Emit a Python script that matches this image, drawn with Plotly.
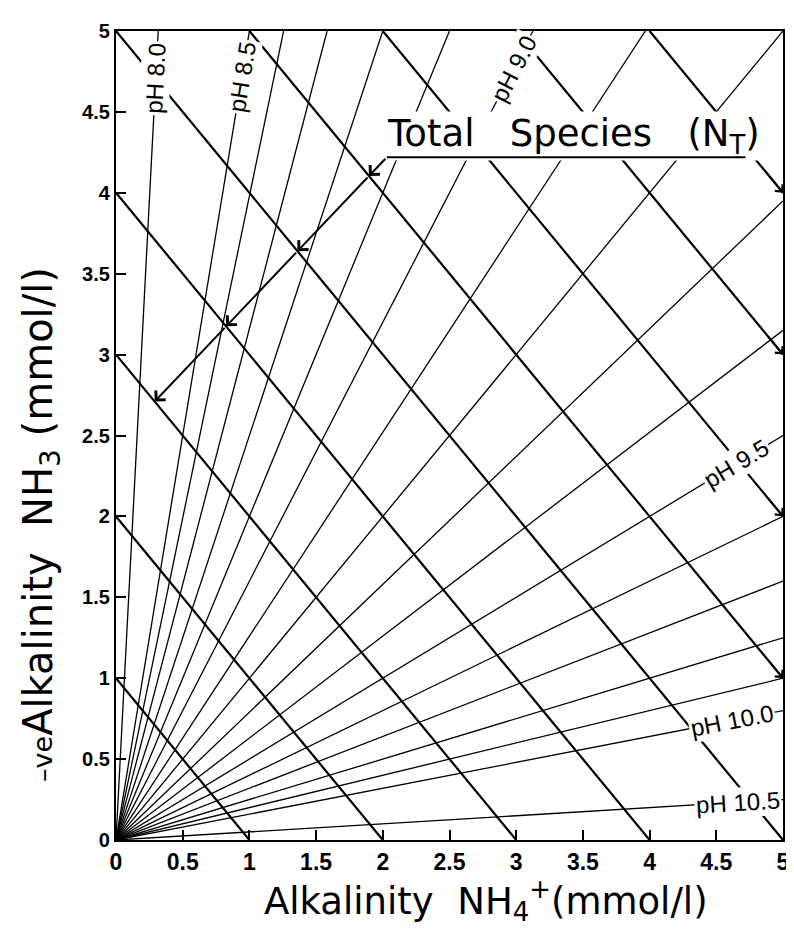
import math
import plotly.graph_objects as go

# ---------------- data ----------------
# pH of each radial line and its slope (NH3 alkalinity / NH4+ alkalinity)
ph_values = [8.0, 8.5, 8.6, 8.7, 8.8, 8.9, 9.0, 9.1, 9.2, 9.3, 9.4, 9.5,
             9.6, 9.7, 9.8, 9.9, 10.0, 10.5]
ph_slopes = [15.8, 5.0, 3.98, 3.16, 2.5, 2.0, 1.6, 1.26, 1.0, 0.79, 0.63,
             0.5, 0.4, 0.32, 0.25, 0.2, 0.16, 0.05]

# total-species lines (x + y = N)
total_species = [1, 2, 3, 4, 5, 6, 7, 8, 9]
pointer_species = [6, 5, 4, 3]        # arrowheads on the left pointer
edge_arrow_species = [6, 7, 8, 9]     # arrowheads where lines meet the right edge

# labelled pH lines
label_ph = ["8.0", "8.5", "9.0", "9.5", "10.0", "10.5"]

tick_vals = [0, 0.5, 1, 1.5, 2, 2.5, 3, 3.5, 4, 4.5, 5]
tick_text = ["0", "0.5", "1", "1.5", "2", "2.5", "3", "3.5", "4", "4.5", "5"]

# ---------------- layout constants ----------------
W, H = 794, 931
ML, MR, MT, MB = 108, 12, 20, 99
PW, PH = W - ML - MR, H - MT - MB
XMAX = YMAX = 5.0
SX, SY = PW / XMAX, PH / YMAX   # px per unit

LABEL_FONT = "Liberation Sans, Arial, sans-serif"
TITLE_FONT = "DejaVu Sans, Verdana, sans-serif"

# where the pH labels sit along their lines (axis, coordinate)
label_place = {"8.0": ("y", 4.71), "8.5": ("y", 4.72), "9.0": ("y", 4.77),
               "9.5": ("x", 4.65), "10.0": ("x", 4.62), "10.5": ("x", 4.66)}

# pointer path of the "Total Species" label (underline + slanted leader)
pointer_path = [(4.73, 4.22), (2.03, 4.22), (0.29, 2.71)]


def px_to_paper(px, py):
    return (px - ML) / PW, (H - MB - py) / PH


fig = go.Figure()

# radial pH lines
rx, ry = [], []
for s in ph_slopes:
    if s >= 1:
        ex, ey = XMAX / s, YMAX
    else:
        ex, ey = XMAX, XMAX * s
    rx += [0, ex, None]
    ry += [0, ey, None]
fig.add_trace(go.Scatter(x=rx, y=ry, mode="lines",
                         line=dict(color="black", width=1.3),
                         hoverinfo="skip"))

# total species diagonals
dx, dy = [], []
for n in total_species:
    x0, y0 = max(0, n - YMAX), min(n, YMAX)
    x1, y1 = min(n, XMAX), max(0, n - XMAX)
    dx += [x0, x1, None]
    dy += [y0, y1, None]
fig.add_trace(go.Scatter(x=dx, y=dy, mode="lines",
                         line=dict(color="black", width=2.2),
                         hoverinfo="skip"))

annotations = []

# pH labels
slope_by_ph = {f"{p:.1f}": s for p, s in zip(ph_values, ph_slopes)}
for lab in label_ph:
    s = slope_by_ph[lab]
    axis, v = label_place[lab]
    if axis == "y":
        lx, ly = v / s, v
    else:
        lx, ly = v, v * s
    ang = -math.degrees(math.atan(s * SY / SX))
    annotations.append(dict(
        x=lx, y=ly, xref="x", yref="y", text=f"pH {lab}", showarrow=False,
        textangle=ang, font=dict(family=LABEL_FONT, size=24, color="black"),
        bgcolor="white", borderpad=1, xanchor="center", yanchor="middle"))

# Total Species label
annotations.append(dict(
    x=3.43, y=4.35, xref="x", yref="y",
    text="Total   Species   (N<sub>T</sub>)", showarrow=False,
    font=dict(family=TITLE_FONT, size=37, color="black"),
    bgcolor="white", borderpad=0, xanchor="center", yanchor="middle"))

# underline of the label
(ux0, uy0), (ux1, uy1), (px1, py1) = pointer_path
annotations.append(dict(x=ux1, y=uy1, ax=ux0, ay=uy0, xref="x", yref="y",
                        axref="x", ayref="y", text="", showarrow=True,
                        arrowhead=0, arrowwidth=2, arrowcolor="black"))
# slanted leader with arrowheads at each crossing
s0 = ux1 + uy1
s1 = px1 + py1
prev = (ux1, uy1)
for n in pointer_species:
    t = (s0 - n) / (s0 - s1)
    cx = ux1 + t * (px1 - ux1)
    cy = uy1 + t * (py1 - uy1)
    annotations.append(dict(x=cx, y=cy, ax=prev[0], ay=prev[1],
                            xref="x", yref="y", axref="x", ayref="y",
                            text="", showarrow=True, arrowhead=4,
                            arrowsize=1.3, arrowwidth=2, arrowcolor="black"))
    prev = (cx, cy)

# arrowheads where diagonals meet the right edge
for n in edge_arrow_species:
    hx, hy = XMAX, n - XMAX
    annotations.append(dict(x=hx, y=hy, ax=hx - 0.12, ay=hy + 0.12,
                            xref="x", yref="y", axref="x", ayref="y",
                            text="", showarrow=True, arrowhead=4,
                            arrowsize=1.1, arrowwidth=1.8,
                            arrowcolor="black"))

# axis titles
tx, ty = px_to_paper(482, 893)
annotations.append(dict(
    x=tx, y=ty, xref="paper", yref="paper", showarrow=False,
    text="Alkalinity  NH<sub>4</sub><sup>+</sup>(mmol/l)",
    font=dict(family=TITLE_FONT, size=37, color="black"),
    xanchor="center", yanchor="middle"))
tx, ty = px_to_paper(32, 515)
annotations.append(dict(
    x=tx, y=ty, xref="paper", yref="paper", showarrow=False, textangle=-90,
    text="<span style='font-size:27px'>\u2013ve</span>Alkalinity  NH<sub>3</sub> (mmol/l)",
    font=dict(family=TITLE_FONT, size=40, color="black"),
    xanchor="center", yanchor="middle"))

axis_common = dict(range=[0, 5], tickvals=tick_vals, ticktext=tick_text,
                   ticks="inside", ticklen=10, tickwidth=1.6,
                   tickcolor="black", showline=True, linewidth=2.2,
                   linecolor="black", mirror=True, showgrid=False,
                   zeroline=False, fixedrange=True)

fig.update_xaxes(**axis_common,
                 tickfont=dict(family=LABEL_FONT, size=23, color="black",
                               weight="bold"))
fig.update_yaxes(**axis_common,
                 tickfont=dict(family=LABEL_FONT, size=20, color="black",
                               weight="bold"))

fig.update_layout(width=W, height=H,
                  margin=dict(l=ML, r=MR, t=MT, b=MB),
                  plot_bgcolor="white", paper_bgcolor="white",
                  showlegend=False, annotations=annotations)

fig.write_html("out.html")
